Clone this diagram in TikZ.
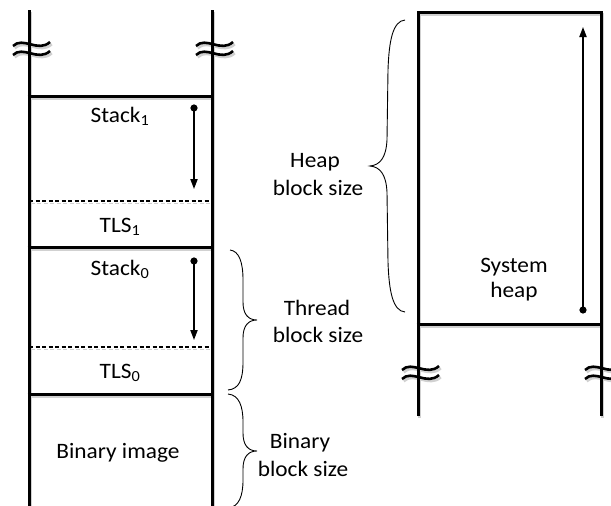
\documentclass[tikz,border=0pt]{standalone}
\usepackage{fontspec}
\setmainfont{Carlito}[FakeStretch=1.06]
\usetikzlibrary{arrows.meta}
\tikzset{
  wall/.style={line width=3pt},
  divider/.style={line width=1.3pt, dash pattern=on 4pt off 2.5pt},
  growth/.style={line width=1.8pt, {Circle[length=7pt]}-{Triangle[length=10pt,width=7pt]}, shorten <=-3.5pt},
  bracepath/.style={line width=0.9pt},
  lbl/.style={font=\fontsize{22}{24}\selectfont, anchor=base, inner sep=0pt},
  breakmark/.pic={
    \draw[line width=2.6pt] (-18,-2) .. controls (-8,-12) and (7,5) .. (19,-6);
    \draw[line width=2.6pt] (-18,7) .. controls (-8,-3) and (7,14) .. (19,3);
  }
}
% walls, dividers and growth arrows; drawn once as a soft offset shadow and once on top
\newcommand\memorylayout{%
% address space of the process: thread blocks above the binary image
\draw[wall] (29,10) -- (29,506);
\draw[wall] (212,10) -- (212,506);
\draw[wall] (27.5,96) -- (213.5,96);
\draw[wall] (27.5,247) -- (213.5,247);
\draw[wall] (27.5,394) -- (213.5,394);
\draw[divider] (29,201) -- (212,201);
\draw[divider] (29,347) -- (212,347);
\pic at (31,48) {breakmark};
\pic at (214,48) {breakmark};
% system heap block
\draw[wall] (418,416) -- (418,12) -- (601,12) -- (601,416);
\draw[wall] (416.5,324) -- (602.5,324);
\pic at (420,372) {breakmark};
\pic at (603,372) {breakmark};
% growth directions
\draw[growth] (s1top) -- (s1end);
\draw[growth] (s0top) -- (s0end);
\draw[growth] (hbot) -- (htop);
}
\begin{document}
\begin{tikzpicture}[x=1pt,y=-1pt]
\useasboundingbox (0,0) rectangle (611,506);

\coordinate (s1top) at (194,108);
\coordinate (s1end) at (194,189);
\coordinate (s0top) at (194,261);
\coordinate (s0end) at (194,340);
\coordinate (hbot) at (583,310);
\coordinate (htop) at (583,27);

\begin{scope}[shift={(1.8,2.2)}, color=black!18]
\memorylayout
\end{scope}
\memorylayout

% block labels
\node[lbl] (stack1) at (120,122) {Stack\textsubscript{1}};
\node[lbl] (tls1) at (120,232) {TLS\textsubscript{1}};
\node[lbl] (stack0) at (120,275) {Stack\textsubscript{0}};
\node[lbl] (tls0) at (120,378) {TLS\textsubscript{0}};
\node[lbl] (binimg) at (118,458) {Binary image};
\node[lbl] (syshA) at (514,272) {System};
\node[lbl] (syshB) at (514,297) {heap};

% size braces
\draw[bracepath] (405,20) .. controls (393,21) and (389,40) .. (388,70)
  -- (387,140) .. controls (386,158) and (380,165) .. (370,166)
  .. controls (380,167) and (386,174) .. (387,192)
  -- (388,262) .. controls (389,292) and (393,311) .. (405,312);
\draw[bracepath] (230,250) .. controls (239,251) and (243,262) .. (243,280)
  -- (243,302) .. controls (243,314) and (248,320) .. (257,320)
  .. controls (248,320) and (243,326) .. (243,338)
  -- (243,362) .. controls (243,380) and (239,389) .. (228,390);
\draw[bracepath] (228,394) .. controls (239,395) and (243,406) .. (243,422)
  -- (243,433) .. controls (243,445) and (248,451) .. (257,451)
  .. controls (248,451) and (243,457) .. (243,469)
  -- (243,480) .. controls (243,496) and (239,507) .. (228,508);

\node[lbl] (heapA) at (315,167) {Heap};
\node[lbl] (heapB) at (318,195) {block size};
\node[lbl] (thrA) at (317,315) {Thread};
\node[lbl] (thrB) at (318,342) {block size};
\node[lbl] (binA) at (300,448) {Binary};
\node[lbl] (binB) at (303,476) {block size};
\end{tikzpicture}
\end{document}
